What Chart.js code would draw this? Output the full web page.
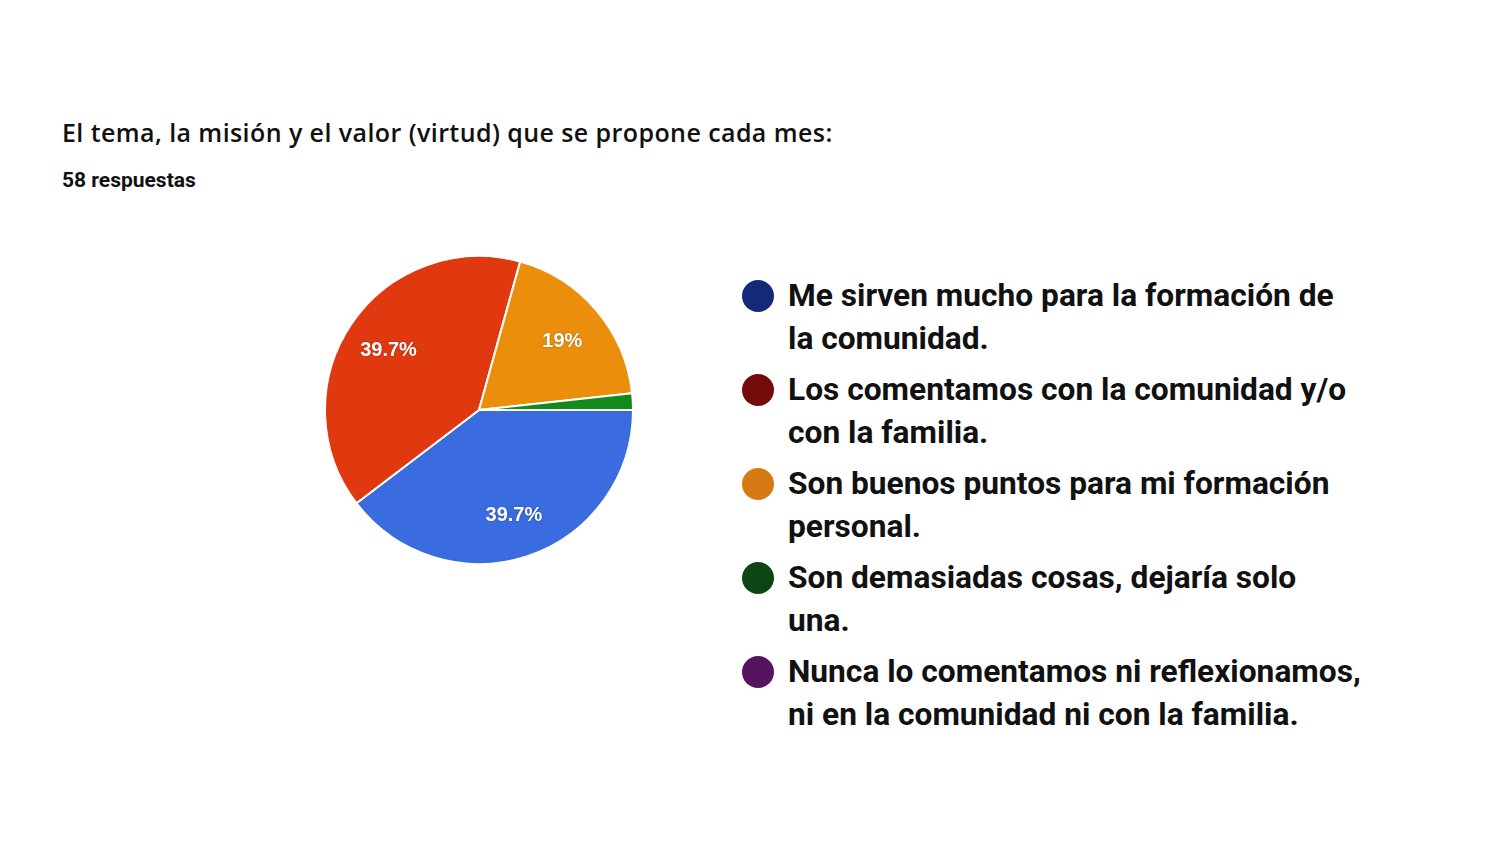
<!DOCTYPE html>
<html>
<head>
<meta charset="utf-8">
<script src="https://cdn.jsdelivr.net/npm/chart.js@4/dist/chart.umd.min.js"></script>
<style>
  html, body { margin: 0; padding: 0; background: #fff; }
  body { width: 1500px; height: 844px; position: relative; overflow: hidden; }
  #title { position: absolute; left: 62px; top: 115px; font-family: "Open Sans", sans-serif; font-weight: 600; font-size: 25px; color: #111; letter-spacing: 0.42px; }
  #sub { position: absolute; left: 62px; top: 168px; font-family: Roboto, sans-serif; font-weight: 700; font-size: 21px; color: #111; }
  #pieBox { position: absolute; left: 319px; top: 250px; width: 320px; height: 320px; }
  #legend { position: absolute; left: 740px; top: 274px; font-family: Roboto, sans-serif; font-weight: 700; font-size: 31.7px; color: #111; }
  .item { position: relative; padding-left: 48px; line-height: 43px; margin-bottom: 8px; }
  .dot { position: absolute; left: 2px; top: 6px; width: 32px; height: 32px; border-radius: 50%; }
</style>
</head>
<body>
<div id="title">El tema, la misión y el valor (virtud) que se propone cada mes:</div>
<div id="sub">58 respuestas</div>
<div id="pieBox"><canvas id="pie"></canvas></div>
<div id="legend"></div>
<script>
// responses per option (58 total)
const labels = [
  ["Me sirven mucho para la formación de", "la comunidad."],
  ["Los comentamos con la comunidad y/o", "con la familia."],
  ["Son buenos puntos para mi formación", "personal."],
  ["Son demasiadas cosas, dejaría solo", "una."],
  ["Nunca lo comentamos ni reflexionamos,", "ni en la comunidad ni con la familia."]
]
const counts = [23, 23, 11, 1, 0]
const sliceColors = ["#3a6ce0", "#e0390f", "#eb8e0c", "#138a1c", "#8a1a8a"]
const dotColors = ["#142a78", "#740a0a", "#d57a12", "#0d4614", "#561360"]

const total = counts.reduce((a, b) => a + b, 0)

const legendEl = document.getElementById("legend")
labels.forEach((l, i) => {
    const d = document.createElement("div")
    d.className = "item"
    d.innerHTML = '<span class="dot" style="background:' + dotColors[i] + '"></span>' + l.join("<br>")
    legendEl.appendChild(d)
})

const pctLabels = {
    id: "pctLabels",
    afterDatasetsDraw(chart) {
        const ctx = chart.ctx
        const meta = chart.getDatasetMeta(0)
        ctx.save()
        ctx.font = "bold 20px 'Liberation Sans', Arial, sans-serif"
        ctx.fillStyle = "#fff"
        ctx.textAlign = "center"
        ctx.textBaseline = "middle"
        ctx.shadowColor = "rgba(0,0,0,0.35)"
        ctx.shadowBlur = 2
        meta.data.forEach((arc, i) => {
            const pct = counts[i] / total * 100
            if (pct < 5) return
            const p = arc.getProps(["x", "y", "startAngle", "endAngle", "outerRadius"], true)
            const mid = (p.startAngle + p.endAngle) / 2
            const r = p.outerRadius * 0.71
            let txt = (Math.round(pct * 10) / 10) + "%"
            ctx.fillText(txt, p.x + Math.cos(mid) * r, p.y + Math.sin(mid) * r + 2)
        })
        ctx.restore()
    }
}

new Chart(document.getElementById("pie"), {
    type: "pie",
    data: {
        labels: labels.map(l => l.join(" ")),
        datasets: [{
            data: counts,
            backgroundColor: sliceColors,
            borderColor: "#fff",
            borderWidth: 2
        }]
    },
    options: {
        responsive: true,
        maintainAspectRatio: false,
        animation: false,
        rotation: 90,
        layout: { padding: 5 },
        plugins: {
            legend: { display: false },
            tooltip: { enabled: false }
        }
    },
    plugins: [pctLabels]
})
</script>
</body>
</html>
